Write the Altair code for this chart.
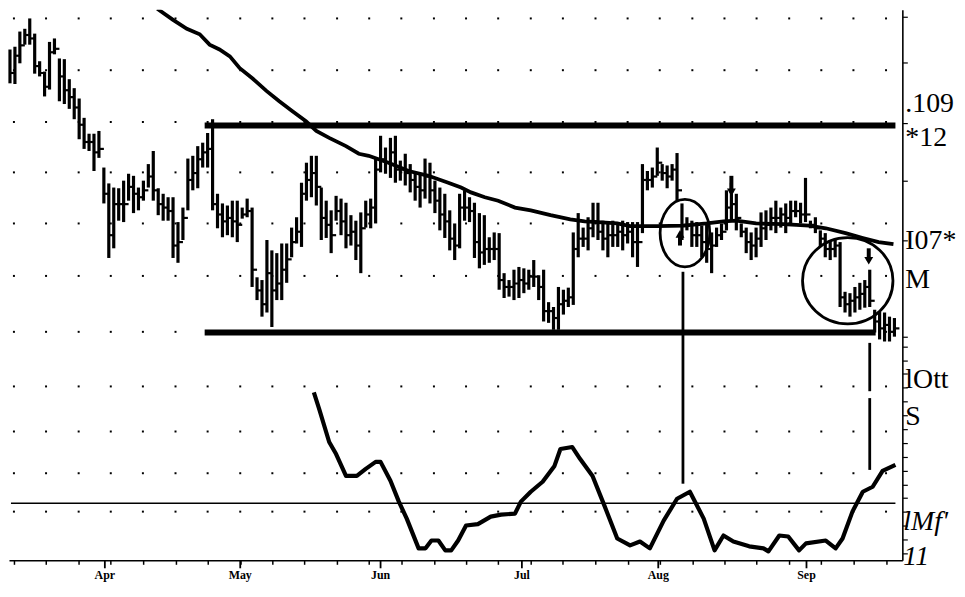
import altair as alt
import pandas as pd

# ---------------- data ----------------
highs = [109.79, 109.83, 110.05, 110.09, 110.24, 110.02, 109.62, 109.47, 109.90, 109.95,
         109.66, 109.65, 109.36, 109.23, 109.08, 108.80, 108.57, 108.57, 108.61, 108.08,
         107.85, 107.79, 107.78, 107.89, 107.99, 107.96, 107.79, 107.89, 108.13, 108.32,
         107.78, 107.70, 107.65, 107.65, 107.29, 107.50, 108.21, 108.25, 108.39, 108.44,
         108.58, 108.78, 107.70, 107.56, 107.53, 107.60, 107.60, 107.50, 107.63, 107.50,
         106.49, 106.45, 107.03, 106.88, 106.84, 106.98, 106.98, 107.21, 107.36, 107.86,
         108.15, 108.25, 108.25, 107.79, 107.60, 107.46, 107.67, 107.63, 107.57, 107.39,
         107.31, 107.43, 107.60, 107.63, 108.21, 108.54, 108.37, 108.51, 108.54, 108.18,
         108.28, 108.13, 107.99, 107.99, 108.21, 108.15, 107.89, 107.79, 107.70, 107.46,
         107.27, 107.70, 107.75, 107.65, 107.57, 107.42, 107.39, 107.07, 107.14, 107.13,
         106.55, 106.45, 106.60, 106.64, 106.62, 106.60, 106.74, 106.52, 106.60, 106.13,
         106.06, 106.35, 106.31, 106.34, 107.14, 107.42, 107.21, 107.36, 107.57, 107.57,
         107.31, 107.29, 107.31, 107.27, 107.31, 107.29, 107.29, 107.29, 108.13, 108.03,
         108.08, 108.37, 108.13, 108.11, 108.13, 108.29, 107.56, 107.36, 107.31, 107.29,
         107.24, 107.27, 107.14, 107.21, 107.27, 107.75, 107.86, 107.70, 107.27, 107.21,
         107.14, 107.21, 107.43, 107.46, 107.50, 107.60, 107.50, 107.56, 107.60, 107.60,
         107.57, 107.93, 107.31, 107.36, 107.17, 107.13, 107.03, 107.03, 107.00, 106.28,
         106.26, 106.35, 106.41, 106.45, 106.60, 106.02, 105.99, 105.98, 105.92, 105.90]

lows = [109.30, 109.29, 109.59, 109.86, 109.86, 109.44, 109.40, 109.11, 109.21, 109.72,
        109.04, 109.00, 108.93, 108.78, 108.49, 108.35, 108.32, 108.03, 108.22, 107.56,
        106.77, 106.91, 107.31, 107.29, 107.60, 107.42, 107.46, 107.60, 107.79, 107.60,
        107.39, 107.31, 107.31, 106.77, 106.70, 107.03, 107.46, 107.75, 107.78, 108.08,
        108.08, 107.46, 107.20, 107.07, 107.10, 107.07, 107.00, 107.34, 107.36, 106.35,
        106.16, 105.92, 105.98, 105.77, 106.16, 106.16, 106.41, 106.78, 106.98, 106.93,
        107.60, 107.65, 107.53, 107.03, 107.06, 106.84, 107.31, 107.10, 106.91, 106.95,
        106.74, 106.55, 107.21, 107.20, 107.27, 108.01, 107.99, 107.93, 107.86, 107.89,
        107.82, 107.72, 107.60, 107.50, 107.63, 107.56, 107.42, 107.17, 107.06, 106.88,
        106.74, 106.91, 107.31, 107.29, 106.77, 106.62, 106.67, 106.70, 106.74, 106.31,
        106.19, 106.21, 106.16, 106.19, 106.26, 106.31, 106.35, 106.16, 105.85, 105.83,
        105.73, 105.73, 105.95, 106.06, 106.09, 106.78, 106.93, 106.88, 107.07, 107.03,
        106.88, 106.78, 106.93, 106.93, 106.88, 106.98, 106.78, 106.64, 107.13, 107.75,
        107.79, 107.96, 107.89, 107.78, 107.89, 107.60, 107.03, 107.17, 106.93, 106.93,
        106.78, 106.70, 106.55, 106.93, 107.03, 107.17, 107.31, 107.17, 107.07, 106.84,
        106.74, 106.78, 106.93, 107.03, 107.17, 107.13, 107.21, 107.13, 107.27, 107.36,
        107.27, 107.29, 107.20, 107.13, 106.93, 106.78, 106.74, 106.78, 106.06, 105.98,
        105.92, 105.98, 106.02, 106.05, 106.06, 105.69, 105.59, 105.56, 105.56, 105.63]

closes = [109.45, 109.70, 109.85, 110.00, 109.95, 109.55, 109.45, 109.25, 109.75, 109.80,
          109.40, 109.20, 109.10, 108.95, 108.70, 108.45, 108.45, 108.30, 108.35, 107.70,
          107.10, 107.55, 107.55, 107.55, 107.80, 107.70, 107.65, 107.75, 107.95, 107.75,
          107.55, 107.50, 107.45, 106.95, 107.00, 107.35, 107.90, 108.00, 108.20, 108.30,
          108.35, 107.55, 107.40, 107.30, 107.35, 107.30, 107.25, 107.40, 107.45, 106.60,
          106.30, 106.10, 106.55, 106.30, 106.40, 106.60, 106.75, 107.00, 107.15, 107.70,
          107.90, 108.00, 107.80, 107.35, 107.25, 107.10, 107.45, 107.30, 107.10, 107.15,
          106.95, 107.20, 107.40, 107.50, 108.05, 108.20, 108.15, 108.30, 108.05, 108.05,
          108.00, 107.90, 107.80, 107.75, 107.95, 107.75, 107.60, 107.40, 107.30, 107.05,
          106.95, 107.50, 107.50, 107.45, 107.00, 106.85, 106.90, 106.90, 106.90, 106.45,
          106.35, 106.35, 106.40, 106.45, 106.40, 106.50, 106.50, 106.35, 106.00, 106.00,
          105.90, 106.10, 106.15, 106.20, 106.90, 107.05, 107.05, 107.20, 107.30, 107.15,
          107.05, 107.10, 107.10, 107.15, 107.10, 107.15, 107.00, 107.00, 107.90, 107.90,
          107.95, 108.15, 108.00, 107.95, 108.05, 107.75, 107.25, 107.25, 107.10, 107.10,
          107.00, 106.90, 106.95, 107.10, 107.15, 107.50, 107.55, 107.35, 107.15, 107.00,
          106.95, 107.05, 107.20, 107.25, 107.35, 107.35, 107.40, 107.35, 107.45, 107.45,
          107.40, 107.40, 107.25, 107.20, 107.05, 106.90, 106.90, 106.95, 106.20, 106.10,
          106.15, 106.20, 106.25, 106.35, 106.15, 105.85, 105.75, 105.80, 105.70, 105.75]

ma_x = [29.8, 33.0, 35.8, 38.4, 40.4, 42.4, 44.5, 46.5, 49.1, 51.9, 54.5, 57.1, 59.9, 62.0,
        64.6, 68.0, 70.6, 72.6, 76.6, 80.7, 84.7, 88.7, 91.3, 93.3, 96.1, 98.8, 102.2, 105.4,
        109.4, 113.4, 116.3, 118.9, 122.9, 125.5, 130.9, 136.4, 141.0, 144.4, 147.0, 151.0,
        156.5, 161.7, 165.1, 169.1, 172.6, 175.8, 178.8]
ma_p = [110.38, 110.22, 110.09, 110.01, 109.86, 109.79, 109.69, 109.52, 109.37, 109.19,
        109.04, 108.90, 108.75, 108.61, 108.51, 108.39, 108.28, 108.25, 108.15, 108.03,
        107.96, 107.86, 107.79, 107.72, 107.65, 107.60, 107.50, 107.46, 107.39, 107.33,
        107.30, 107.29, 107.27, 107.23, 107.23, 107.24, 107.27, 107.30, 107.31, 107.27,
        107.26, 107.24, 107.20, 107.13, 107.06, 107.00, 106.97]

osc_x = [61.5, 62.6, 64.6, 66.0, 68.0, 70.2, 72.0, 74.0, 75.0, 77.0, 78.7, 80.3, 82.7, 84.1,
         85.3, 86.7, 88.1, 89.3, 90.7, 92.3, 94.7, 97.3, 99.4, 102.2, 103.4, 105.4, 107.8,
         110.2, 111.4, 113.8, 115.4, 117.9, 120.3, 122.9, 125.5, 127.5, 129.5, 132.3, 135.0,
         137.6, 140.4, 142.6, 144.4, 146.4, 149.6, 152.5, 153.5, 155.7, 157.5, 159.7, 161.1,
         165.1, 167.1, 168.5, 170.5, 172.6, 174.6, 176.6, 179.2]
osc_v = [96.4, 86.3, 66.7, 59.5, 46.4, 46.4, 50.6, 54.8, 54.8, 43.5, 31.0, 20.8, 3.0, 3.0,
         7.7, 7.7, 1.8, 1.8, 7.7, 16.7, 17.5, 22.0, 23.2, 23.8, 31.0, 36.9, 42.9, 52.4, 62.5,
         63.7, 56.5, 46.4, 28.6, 8.9, 4.8, 7.1, 3.0, 19.6, 32.7, 36.9, 20.8, 1.8, 10.7, 7.1,
         4.2, 3.0, 1.2, 10.7, 10.1, 1.8, 6.0, 7.7, 3.0, 8.9, 25.0, 36.9, 39.9, 49.4, 53.0]
osc_level = 30

# channel (support / resistance) levels and their extent
band_levels = [108.69, 105.69]
band_start = [39.4, 39.4]
band_end = [179.2, 175.2]

# vertical marker lines (x, from price, to price)
vline_x = [136.2, 174.0, 174.0]
vline_top = [106.57, 105.54, 104.74]
vline_bottom = [103.50, 104.84, 103.70]

# circled areas (centre)
circle_x = [136.6, 169.55]
circle_p = [107.13, 106.44]

# arrows (x, tail, head, direction)
arrow_x = [135.6, 146.0, 173.8]
arrow_tail = [106.95, 107.96, 106.91]
arrow_head = [107.12, 107.72, 106.73]
arrow_dir = ["up", "down", "down"]

# axes / grid
week_ticks = [0.8, 7.3, 13.9, 20.4, 26.9, 33.5, 40.0, 46.6, 53.1, 59.6, 66.2, 72.7, 79.2,
              85.8, 92.3, 98.8, 105.4, 111.9, 118.5, 125.0, 131.5, 138.1, 144.6, 151.1,
              157.7, 164.2, 170.7, 177.3]
month_names = ["Apr", "May", "Jun", "Jul", "Aug", "Sep"]
month_pos = [19.2, 46.6, 75.0, 103.6, 131.2, 161.2]
grid_rows_price = [110.24, 109.49, 108.74, 108.01, 107.27, 106.51, 105.70]
grid_rows_osc = [100, 73, 48, 25]
right_ticks = [110.26, 109.60, 108.72, 107.89, 107.03, 105.63, 105.49, 105.29, 105.09,
               104.89, 104.69, 104.49, 104.29, 104.09, 103.89, 103.69, 103.49, 103.29,
               103.09, 102.89, 102.69, 102.49]
right_labels = [".109", "*12", "I07*", "M", "lOtt", "S"]
right_label_p = [109.00, 108.51, 107.01, 106.45, 105.00, 104.46]
right_labels_it = ["lMf'", "11"]
right_label_it_p = [102.94, 102.44]

# ---------------- scales & axes ----------------
X_DOM = [-0.2, 180.6]
P_DOM = [102.39, 110.365]
O_DOM = [-4.17, 325.6]
xs = alt.Scale(domain=X_DOM, nice=False, zero=False)
ps = alt.Scale(domain=P_DOM, nice=False, zero=False)
osc_scale = alt.Scale(domain=O_DOM, nice=False, zero=False)

x_axis = alt.Axis(values=week_ticks, labels=False, title=None, tickSize=4, tickWidth=1.5,
                  tickColor="black", domainColor="black", domainWidth=1.6, grid=False)
p_axis = alt.Axis(orient="right", values=right_ticks, labels=False, title=None,
                  tickSize=5, tickWidth=1.2, tickColor="black", domainColor="black",
                  domainWidth=1.6, grid=False)


def X(field):
    return alt.X(field, type="quantitative", scale=xs, axis=x_axis)


def P(field):
    return alt.Y(field, type="quantitative", scale=ps, axis=p_axis)


def O(field):
    return alt.Y(field, type="quantitative", scale=osc_scale, axis=None)


bars_df = pd.DataFrame({"i": list(range(len(highs))), "high": highs, "low": lows,
                        "close": closes})
ma_df = pd.DataFrame({"x": ma_x, "p": ma_p})
osc_df = pd.DataFrame({"x": osc_x, "v": osc_v})
band_df = pd.DataFrame({"p": band_levels, "x1": band_start, "x2": band_end})
vline_df = pd.DataFrame({"x": vline_x, "p1": vline_top, "p2": vline_bottom})
arrow_df = pd.DataFrame({"x": arrow_x, "tail": arrow_tail, "head": arrow_head,
                         "dir": arrow_dir})
dots_up = pd.DataFrame([{"x": c, "p": r} for r in grid_rows_price for c in week_ticks])
dots_low = pd.DataFrame([{"x": c, "v": r} for r in grid_rows_osc for c in week_ticks])
month_df = pd.DataFrame({"m": month_names, "x": month_pos})
lab_df = pd.DataFrame({"t": right_labels, "p": right_label_p})
lab_it_df = pd.DataFrame({"t": right_labels_it, "p": right_label_it_p})
level_df = pd.DataFrame({"v": [osc_level], "x1": [0.2], "x2": [179.2]})

# ---------------- price panel ----------------
grid_up = alt.Chart(dots_up).mark_square(size=4, color="black", opacity=1).encode(
    x=X("x"), y=P("p"))

bands = alt.Chart(band_df).mark_rule(color="black", strokeWidth=6).encode(
    x=X("x1"), x2="x2", y=P("p"))

bars = alt.Chart(bars_df).mark_rule(color="black", strokeWidth=3.2).encode(
    x=X("i"), y=P("low"), y2="high")

close_ticks = alt.Chart(bars_df).mark_tick(
    orient="horizontal", color="black", size=5, thickness=2.2, xOffset=2.5, opacity=1
).encode(x=X("i"), y=P("close"))

ma = alt.Chart(ma_df).mark_line(color="black", strokeWidth=3.8, clip=True).encode(
    x=X("x"), y=P("p"))

vlines = alt.Chart(vline_df).mark_rule(color="black", strokeWidth=2.8).encode(
    x=X("x"), y=P("p1"), y2="p2")

ell1 = alt.Chart(pd.DataFrame({"x": circle_x[:1], "p": circle_p[:1]})).mark_point(
    shape=("M 0.735 0 C 0.735 0.552 0.406 1 0 1 C -0.406 1 -0.735 0.552 -0.735 0 "
           "C -0.735 -0.552 -0.406 -1 0 -1 C 0.406 -1 0.735 -0.552 0.735 0 Z"),
    size=4624, filled=False, color="black", strokeWidth=2.8, opacity=1
).encode(x=X("x"), y=P("p"))

ell2 = alt.Chart(pd.DataFrame({"x": circle_x[1:], "p": circle_p[1:]})).mark_point(
    shape=("M 1 0 C 1 0.528 0.552 0.956 0 0.956 C -0.552 0.956 -1 0.528 -1 0 "
           "C -1 -0.528 -0.552 -0.956 0 -0.956 C 0.552 -0.956 1 -0.528 1 0 Z"),
    size=8281, filled=False, color="black", strokeWidth=2.8, opacity=1
).encode(x=X("x"), y=P("p"))

arrow_stem = alt.Chart(arrow_df).mark_rule(color="black", strokeWidth=4).encode(
    x=X("x"), y=P("tail"), y2="head")
arrow_head_m = alt.Chart(arrow_df).mark_point(filled=True, size=80, color="black",
                                              opacity=1).encode(
    x=X("x"), y=P("head"),
    shape=alt.Shape("dir:N", scale=alt.Scale(domain=["up", "down"],
                                             range=["triangle-up", "triangle-down"]),
                    legend=None))

labels = alt.Chart(lab_df).mark_text(
    font="Liberation Serif", fontSize=28, align="left", baseline="middle", color="black"
).encode(x=alt.value(902), y=P("p"), text="t:N")

labels_it = alt.Chart(lab_it_df).mark_text(
    font="Liberation Serif", fontSize=28, fontStyle="italic", align="left",
    baseline="middle", color="black"
).encode(x=alt.value(900), y=P("p"), text="t:N")

month_ticks = alt.Chart(month_df).mark_rule(color="black", strokeWidth=1.8).encode(
    x=X("x"), y=alt.value(554), y2=alt.value(562))

month_labels = alt.Chart(month_df).mark_text(
    font="Liberation Serif", fontSize=12, fontWeight="bold", baseline="middle",
    align="center", color="black"
).encode(x=X("x"), y=alt.value(569), text="m:N")

price_panel = alt.layer(grid_up, bands, bars, close_ticks, ma, vlines, ell1, ell2,
                        arrow_stem, arrow_head_m, labels, labels_it, month_ticks,
                        month_labels)

# ---------------- oscillator panel ----------------
grid_low = alt.Chart(dots_low).mark_square(size=4, color="black", opacity=1).encode(
    x=X("x"), y=O("v"))

level = alt.Chart(level_df).mark_rule(color="black", strokeWidth=1.5).encode(
    x=X("x1"), x2="x2", y=O("v"))

osc = alt.Chart(osc_df).mark_line(color="black", strokeWidth=4.2, strokeJoin="round").encode(
    x=X("x"), y=O("v"))

osc_panel = alt.layer(grid_low, level, osc)

chart = alt.layer(price_panel, osc_panel).resolve_scale(y="independent").properties(
    width=899, height=554, padding=0, background="white"
).configure_view(stroke=None)

chart.save("out.html", embed_options={"renderer": "svg", "actions": False})
